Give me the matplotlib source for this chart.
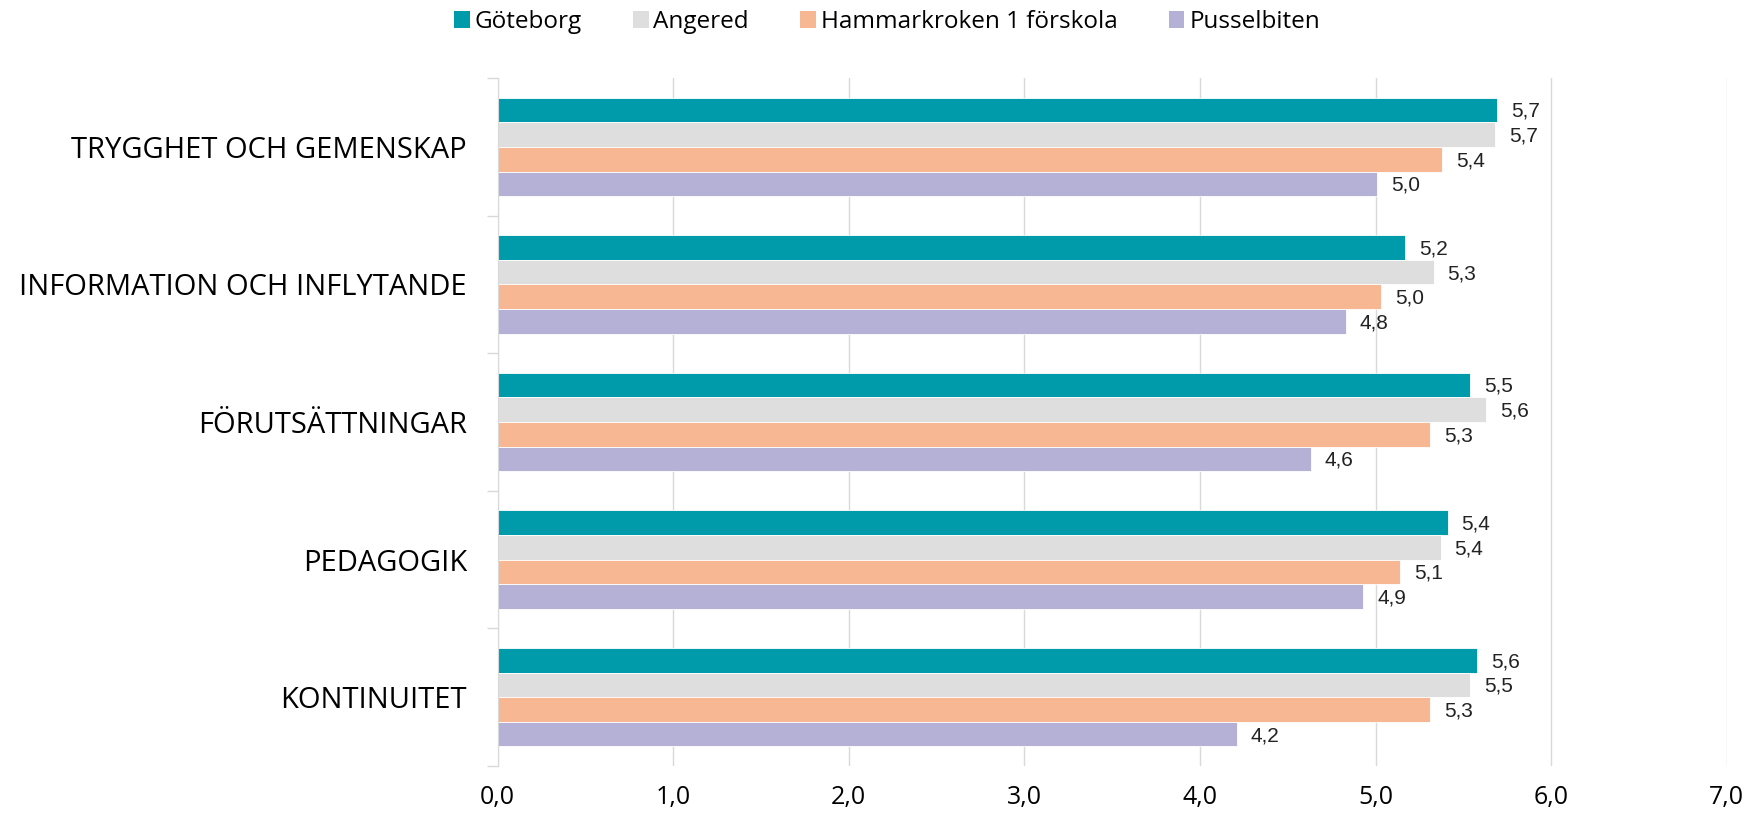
import numpy as np
import matplotlib
matplotlib.use('Agg')
import matplotlib.pyplot as plt
from matplotlib.patches import Patch

categories = ['TRYGGHET OCH GEMENSKAP', 'INFORMATION OCH INFLYTANDE',
              'FÖRUTSÄTTNINGAR', 'PEDAGOGIK', 'KONTINUITET']
series = ['Göteborg', 'Angered', 'Hammarkroken 1 förskola', 'Pusselbiten']
goteborg = [5.69, 5.17, 5.54, 5.41, 5.58]
angered = [5.68, 5.33, 5.63, 5.37, 5.54]
hammarkroken = [5.38, 5.03, 5.31, 5.14, 5.31]
pusselbiten = [5.01, 4.83, 4.63, 4.93, 4.21]
xticks = [0, 1, 2, 3, 4, 5, 6, 7]

colors = ['#009BAB', '#DEDEDE', '#F8B793', '#B5B0D5']
values = [goteborg, angered, hammarkroken, pusselbiten]

fig = plt.figure(figsize=(17.46, 8.14), dpi=100)
ax = fig.add_axes([0.285, 0.059, 0.704, 0.845])

y = np.arange(len(categories))
h = 0.179
for i, (name, vals, c) in enumerate(zip(series, values, colors)):
    pos = y - 1.5 * h + i * h
    ax.barh(pos, vals, height=h, color=c, edgecolor='white', linewidth=0.6, label=name)
    for p, v in zip(pos, vals):
        ax.text(v + 0.08, p + 0.01, f'{v:.1f}'.replace('.', ','), va='center', ha='left',
                fontsize=15, family='Liberation Sans', color='#222222')

ax.set_ylim(len(categories) - 0.5, -0.5)
ax.set_xlim(0, 7)
ax.set_xticks(xticks)
ax.set_xticklabels([f'{t:.1f}'.replace('.', ',') for t in xticks],
                   fontsize=18, family='Open Sans')
ax.tick_params(axis='x', length=0, pad=14)

ax.set_yticks(y)
ax.set_yticklabels(categories, fontsize=21, family='Open Sans')
ax.tick_params(axis='y', length=0, pad=22)
ax.set_yticks(np.arange(len(categories) + 1) - 0.5, minor=True)
ax.tick_params(axis='y', which='minor', length=8, color='#D9D9D9', width=1)

ax.grid(axis='x', color='#D9D9D9', linewidth=1)
ax.set_axisbelow(True)
for s in ['top', 'right', 'bottom']:
    ax.spines[s].set_visible(False)
ax.spines['left'].set_color('#D9D9D9')

handles = [Patch(facecolor=c, label=n) for n, c in zip(series, colors)]
fig.legend(handles=handles, loc='center', bbox_to_anchor=(0.508, 0.973), ncol=4,
           frameon=False, prop={'family': 'Open Sans', 'size': 17.5},
           handlelength=0.65, handleheight=0.7, handletextpad=0.2, columnspacing=2.1)

fig.savefig('out.png', dpi=100)
